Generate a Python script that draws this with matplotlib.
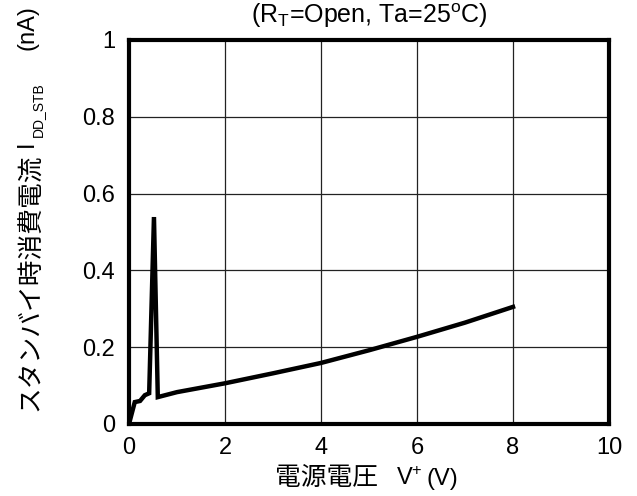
import matplotlib
matplotlib.use("Agg")
from matplotlib import pyplot as plt

# 電源電圧 V+ (V) と スタンバイ時消費電流 (nA)
voltage = [0.0, 0.12, 0.23, 0.33, 0.42, 0.52, 0.60, 1.0, 2.0, 3.0, 4.0, 5.0, 6.0, 7.0, 8.0]
current = [0.0, 0.057, 0.060, 0.075, 0.080, 0.539, 0.070, 0.083, 0.106, 0.132, 0.159, 0.192, 0.227, 0.264, 0.305]

x_ticks = [0, 2, 4, 6, 8, 10]
y_ticks = [0, 0.2, 0.4, 0.6, 0.8, 1]
y_tick_labels = ["0", "0.2", "0.4", "0.6", "0.8", "1"]

plt.rcParams['font.family'] = ['Liberation Sans', 'Noto Sans CJK JP', 'DejaVu Sans']
plt.rcParams['mathtext.fontset'] = 'custom'
plt.rcParams['mathtext.rm'] = 'Liberation Sans'
plt.rcParams['mathtext.it'] = 'Liberation Sans'
plt.rcParams['mathtext.default'] = 'regular'

W, H = 637, 496


def px(x, y):
    # pixel position (from top left) -> figure coords
    return x / W, 1 - y / H


def main():
    fig = plt.figure(figsize=(W / 100, H / 100), dpi=100)
    ax = fig.add_axes([129 / W, 72 / H, 480 / W, 384 / H])

    ax.plot(voltage, current, c='black', lw=3.2, solid_joinstyle='miter')

    ax.set_xlim(0, 10)
    ax.set_ylim(0, 1)
    ax.set_xticks(x_ticks)
    ax.set_yticks(y_ticks)
    ax.set_yticklabels(y_tick_labels)
    ax.tick_params(length=0, labelsize=17)
    ax.tick_params(axis='y', pad=10)
    ax.tick_params(axis='x', pad=9)
    ax.grid(True, color='#222222', lw=0.9)
    ax.set_axisbelow(True)
    for s in ax.spines.values():
        s.set_linewidth(3)

    # タイトル
    fig.text(*px(369, 23), "(R$_{T}$=Open, Ta=25$^{o}$C)", fontsize=18,
             ha='center', va='baseline')

    # x軸ラベル
    fig.text(*px(275, 485), "電源電圧", fontsize=18.5, ha='left', va='baseline')
    fig.text(*px(396, 485), "V$^{+}$", fontsize=17, ha='left', va='baseline')
    fig.text(*px(426, 485), "(V)", fontsize=17, ha='left', va='baseline')

    # y軸ラベル
    rot = dict(rotation=90, rotation_mode='anchor', ha='left', va='baseline')
    fig.text(*px(38, 411), "スタンバイ時消費電流", fontsize=18.5, **rot)
    fig.text(*px(33, 147), "I", fontsize=17, **rot)
    fig.text(*px(42, 137), "DD_STB", fontsize=10, **rot)
    fig.text(*px(33, 50), "(nA)", fontsize=17, **rot)

    fig.savefig("out.png", dpi=100)


if __name__ == "__main__":
    main()
